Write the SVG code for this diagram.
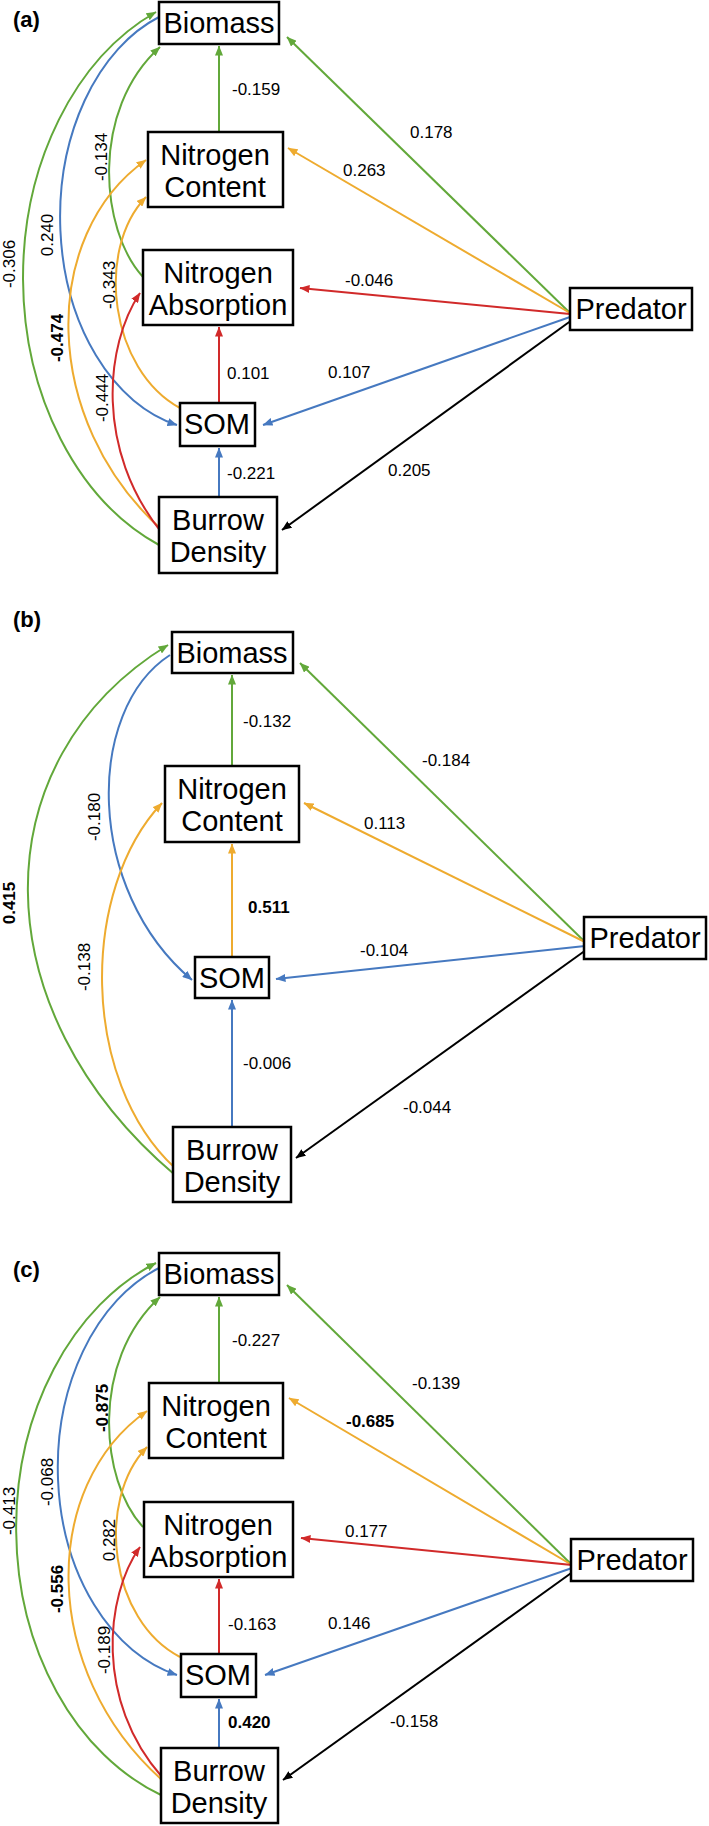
<svg xmlns="http://www.w3.org/2000/svg" width="709" height="1826" viewBox="0 0 709 1826">
<style>
.bg{fill:#fff}
.box{fill:#fff;stroke:#000;stroke-width:2.5}
.nt{font-family:"Liberation Sans",Arial,Helvetica,sans-serif;font-size:29px;text-anchor:middle;fill:#000}
.el{font-family:"Liberation Sans",Arial,Helvetica,sans-serif;font-size:17px;fill:#000}
.er{font-family:"Liberation Sans",Arial,Helvetica,sans-serif;font-size:17px;fill:#000;text-anchor:middle}
.b{font-weight:bold}
.pl{font-family:"Liberation Sans",Arial,Helvetica,sans-serif;font-size:22px;font-weight:bold;fill:#000}
.g{stroke:#62a83a;stroke-width:2;fill:none;marker-end:url(#ag)}
.y{stroke:#eeab2f;stroke-width:2;fill:none;marker-end:url(#ay)}
.u{stroke:#4679c0;stroke-width:2;fill:none;marker-end:url(#au)}
.r{stroke:#d12a2a;stroke-width:2;fill:none;marker-end:url(#ar)}
.k{stroke:#000;stroke-width:2;fill:none;marker-end:url(#ak)}
</style>
<defs>
<marker id="ag" viewBox="0 0 10 8" refX="9.5" refY="4" markerWidth="10" markerHeight="8" markerUnits="userSpaceOnUse" orient="auto"><path d="M0,0 L10,4 L0,8 z" fill="#62a83a"/></marker>
<marker id="ay" viewBox="0 0 10 8" refX="9.5" refY="4" markerWidth="10" markerHeight="8" markerUnits="userSpaceOnUse" orient="auto"><path d="M0,0 L10,4 L0,8 z" fill="#eeab2f"/></marker>
<marker id="au" viewBox="0 0 10 8" refX="9.5" refY="4" markerWidth="10" markerHeight="8" markerUnits="userSpaceOnUse" orient="auto"><path d="M0,0 L10,4 L0,8 z" fill="#4679c0"/></marker>
<marker id="ar" viewBox="0 0 10 8" refX="9.5" refY="4" markerWidth="10" markerHeight="8" markerUnits="userSpaceOnUse" orient="auto"><path d="M0,0 L10,4 L0,8 z" fill="#d12a2a"/></marker>
<marker id="ak" viewBox="0 0 10 8" refX="9.5" refY="4" markerWidth="10" markerHeight="8" markerUnits="userSpaceOnUse" orient="auto"><path d="M0,0 L10,4 L0,8 z" fill="#000"/></marker>
</defs>
<rect class="bg" x="0" y="0" width="709" height="1826"/>

<!-- Panel (a) -->
<g id="panel-a">
<text class="pl" x="13" y="27">(a)</text>
<g id="a-connectors">
<path class="g" d="M159,545 A222,290 0 0 1 156,12"/>
<path class="u" d="M159,17 A150,213 0 0 0 177,425"/>
<path class="g" d="M143,277 C100,230 90,110 160,47"/>
<path class="y" d="M162,530 C40,420 40,235 146,160"/>
<path class="y" d="M180,408 C110,370 95,250 146,197"/>
<path class="r" d="M162,533 C95,450 105,345 140,293"/>
<path class="g" d="M219,132 L219,46"/>
<path class="r" d="M219,403 L219,327"/>
<path class="u" d="M219,497 L219,448"/>
<path class="g" d="M570,313 L287,37"/>
<path class="y" d="M570,313 L288,148"/>
<path class="r" d="M570,314 L300,288"/>
<path class="u" d="M570,317 L263,425"/>
<path class="k" d="M572,320 L282,530"/>
<text class="el" x="232" y="95">-0.159</text>
<text class="el" x="410" y="138">0.178</text>
<text class="el" x="343" y="176">0.263</text>
<text class="el" x="345" y="286">-0.046</text>
<text class="el" x="328" y="378">0.107</text>
<text class="el" x="227" y="379">0.101</text>
<text class="el" x="227" y="479">-0.221</text>
<text class="el" x="388" y="476">0.205</text>
<text class="er" transform="translate(107,157) rotate(-90)">-0.134</text>
<text class="er" transform="translate(53,235) rotate(-90)">0.240</text>
<text class="er" transform="translate(15,264) rotate(-90)">-0.306</text>
<text class="er" transform="translate(115,285) rotate(-90)">-0.343</text>
<text class="er b" transform="translate(63,338) rotate(-90)">-0.474</text>
<text class="er" transform="translate(108,398) rotate(-90)">-0.444</text>
</g>
<g id="a-biomass"><rect class="box" x="159" y="2" width="120" height="42"/><text class="nt" x="219" y="33">Biomass</text></g>
<g id="a-nitrogen-content"><rect class="box" x="148" y="132" width="135" height="75"/><text class="nt" x="215" y="165">Nitrogen</text><text class="nt" x="215" y="197">Content</text></g>
<g id="a-nitrogen-absorption"><rect class="box" x="143" y="250" width="150" height="75"/><text class="nt" x="218" y="283">Nitrogen</text><text class="nt" x="218" y="315">Absorption</text></g>
<g id="a-som"><rect class="box" x="180" y="403" width="75" height="43"/><text class="nt" x="217" y="434">SOM</text></g>
<g id="a-burrow-density"><rect class="box" x="159" y="497" width="118" height="76"/><text class="nt" x="218" y="530">Burrow</text><text class="nt" x="218" y="562">Density</text></g>
<g id="a-predator"><rect class="box" x="570" y="288" width="122" height="42"/><text class="nt" x="631" y="319">Predator</text></g>
</g>

<!-- Panel (b) -->
<g id="panel-b">
<text class="pl" x="13" y="627">(b)</text>
<g id="b-connectors">
<path class="g" d="M175,1175 C-20,1010 -20,760 168,645"/>
<path class="u" d="M170,655 C85,710 85,890 192,980"/>
<path class="y" d="M175,1168 C80,1080 80,890 162,803"/>
<path class="g" d="M232,766 L232,675"/>
<path class="y" d="M232,957 L232,844"/>
<path class="u" d="M232,1127 L232,1000"/>
<path class="g" d="M585,942 L300,663"/>
<path class="y" d="M585,942 L304,803"/>
<path class="u" d="M585,946 L276,979"/>
<path class="k" d="M586,950 L296,1158"/>
<text class="el" x="243" y="727">-0.132</text>
<text class="el b" x="248" y="913">0.511</text>
<text class="el" x="243" y="1069">-0.006</text>
<text class="el" x="422" y="766">-0.184</text>
<text class="el" x="364" y="829">0.113</text>
<text class="el" x="360" y="956">-0.104</text>
<text class="el" x="403" y="1113">-0.044</text>
<text class="er" transform="translate(100,817) rotate(-90)">-0.180</text>
<text class="er b" transform="translate(15,903) rotate(-90)">0.415</text>
<text class="er" transform="translate(90,967) rotate(-90)">-0.138</text>
</g>
<g id="b-biomass"><rect class="box" x="172" y="632" width="121" height="41"/><text class="nt" x="232" y="663">Biomass</text></g>
<g id="b-nitrogen-content"><rect class="box" x="165" y="766" width="134" height="76"/><text class="nt" x="232" y="799">Nitrogen</text><text class="nt" x="232" y="831">Content</text></g>
<g id="b-som"><rect class="box" x="195" y="957" width="74" height="41"/><text class="nt" x="232" y="988">SOM</text></g>
<g id="b-burrow-density"><rect class="box" x="173" y="1127" width="118" height="75"/><text class="nt" x="232" y="1160">Burrow</text><text class="nt" x="232" y="1192">Density</text></g>
<g id="b-predator"><rect class="box" x="584" y="917" width="122" height="42"/><text class="nt" x="645" y="948">Predator</text></g>
</g>

<!-- Panel (c) -->
<g id="panel-c" transform="translate(0,1251)">
<text class="pl" x="13" y="26">(c)</text>
<g id="c-connectors">
<path class="g" d="M161,544 A222,285 0 0 1 156,12"/>
<path class="u" d="M159,17 A155,213 0 0 0 177,424"/>
<path class="g" d="M143,276 C100,230 90,110 160,46"/>
<path class="y" d="M162,529 C40,420 40,235 147,160"/>
<path class="y" d="M180,406 C110,370 95,250 147,196"/>
<path class="r" d="M162,526 C95,450 105,345 140,296"/>
<path class="g" d="M219,132 L219,46"/>
<path class="r" d="M219,403 L219,328"/>
<path class="u" d="M219,497 L219,448"/>
<path class="g" d="M572,314 L287,34"/>
<path class="y" d="M572,314 L289,147"/>
<path class="r" d="M572,314 L301,287"/>
<path class="u" d="M572,317 L265,424"/>
<path class="k" d="M574,320 L283,529"/>
<text class="el" x="232" y="95">-0.227</text>
<text class="el" x="412" y="138">-0.139</text>
<text class="el b" x="346" y="176">-0.685</text>
<text class="el" x="345" y="286">0.177</text>
<text class="el" x="328" y="378">0.146</text>
<text class="el" x="228" y="379">-0.163</text>
<text class="el b" x="228" y="477">0.420</text>
<text class="el" x="390" y="476">-0.158</text>
<text class="er b" transform="translate(108,157) rotate(-90)">-0.875</text>
<text class="er" transform="translate(53,231) rotate(-90)">-0.068</text>
<text class="er" transform="translate(15,260) rotate(-90)">-0.413</text>
<text class="er" transform="translate(115,289) rotate(-90)">0.282</text>
<text class="er b" transform="translate(63,338) rotate(-90)">-0.556</text>
<text class="er" transform="translate(110,399) rotate(-90)">-0.189</text>
</g>
<g id="c-biomass"><rect class="box" x="159" y="2" width="120" height="42"/><text class="nt" x="219" y="33">Biomass</text></g>
<g id="c-nitrogen-content"><rect class="box" x="149" y="132" width="134" height="75"/><text class="nt" x="216" y="165">Nitrogen</text><text class="nt" x="216" y="197">Content</text></g>
<g id="c-nitrogen-absorption"><rect class="box" x="144" y="251" width="149" height="75"/><text class="nt" x="218" y="284">Nitrogen</text><text class="nt" x="218" y="316">Absorption</text></g>
<g id="c-som"><rect class="box" x="181" y="403" width="75" height="43"/><text class="nt" x="218" y="434">SOM</text></g>
<g id="c-burrow-density"><rect class="box" x="161" y="497" width="117" height="75"/><text class="nt" x="219" y="530">Burrow</text><text class="nt" x="219" y="562">Density</text></g>
<g id="c-predator"><rect class="box" x="571" y="288" width="122" height="42"/><text class="nt" x="632" y="319">Predator</text></g>
</g>
</svg>
